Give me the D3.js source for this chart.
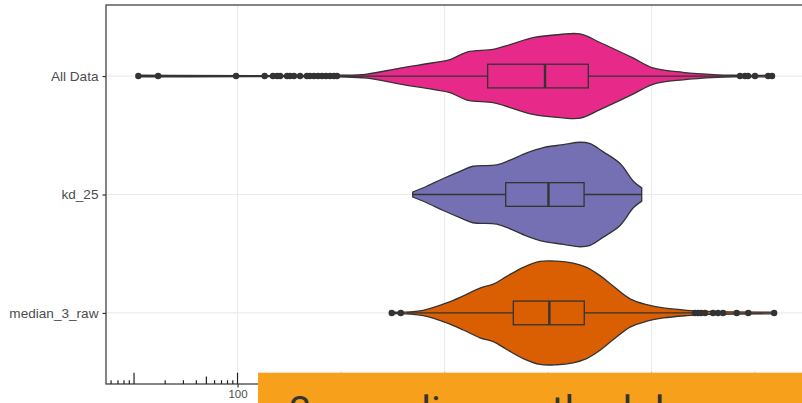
<!DOCTYPE html>
<html>
<head>
<meta charset="utf-8">
<script src="https://cdn.jsdelivr.net/npm/d3@7"></script>
<style>
  body { margin: 0; background: #fff; }
  svg { display: block; }
</style>
</head>
<body>
<div id="chart"></div>
<script>
// Groups and their fills
const groups = ["All Data", "kd_25", "median_3_raw"];
const groupColors = ["#E7298A", "#7570B3", "#D95F02"];

// Violin outlines: values along x and relative density at that value
const allDataValues = [11, 935, 1780, 3720, 7740, 11300, 16500, 29400, 43000, 71600,
                       131000, 204000, 318000, 662000, 1030000, 2010000, 4300000, 6120000, 14600000];
const allDataDensity = [0.015, 0.015, 0.037, 0.15, 0.25, 0.31, 0.45, 0.50, 0.59, 0.72,
                        0.78, 0.79, 0.63, 0.34, 0.155, 0.07, 0.024, 0.015, 0.015];

const kd25Values = [4930, 6730, 9730, 14100, 18800, 31900, 43000, 62300, 90200,
                    141000, 204000, 255000, 342000, 497000, 667000, 804000];
const kd25Density = [0.047, 0.155, 0.30, 0.435, 0.53, 0.555, 0.645, 0.78, 0.88,
                     0.935, 0.98, 0.955, 0.80, 0.58, 0.25, 0.125];

const median3Values = [3090, 4000, 6240, 10500, 15200, 22000, 29600, 39900, 57700, 83700,
                       121000, 175000, 236000, 318000, 428000, 620000, 900000, 1300000,
                       2190000, 3410000, 15300000];
const median3Density = [0.015, 0.015, 0.05, 0.187, 0.32, 0.467, 0.54, 0.686, 0.856, 0.966,
                        0.972, 0.935, 0.856, 0.70, 0.50, 0.265, 0.155, 0.093,
                        0.05, 0.028, 0.015];

// Box stats: [lower whisker, q1, median, q3, upper whisker]
const allDataBox = [935, 26100, 93500, 245000, 6850000];
const kd25Box = [4930, 39000, 101000, 223000, 804000];
const median3Box = [4340, 46200, 103000, 224000, 2520000];

// Outlying points
const allDataOutliers = [11, 17.1, 96.8, 183, 220, 241, 258, 301, 321, 351, 402, 469,
                         501, 548, 600, 655, 716, 783, 855, 914,
                         7160000, 8000000, 8550000, 10000000, 13400000, 14600000];
const kd25Outliers = [];
const median3Outliers = [3090, 3780, 2630000, 2810000, 3010000, 3290000, 3930000,
                         4390000, 4910000, 6650000, 8610000, 15300000];

// x axis breaks
const xBreaks = [100, 10000, 1000000];
const xBreakLabels = ["100", "10000", "1e+06"];

const bannerText = "3 sampling methodology";

const violinData = [
    {values: allDataValues, density: allDataDensity, box: allDataBox, outliers: allDataOutliers},
    {values: kd25Values, density: kd25Density, box: kd25Box, outliers: kd25Outliers},
    {values: median3Values, density: median3Density, box: median3Box, outliers: median3Outliers}
].map((g, i) => ({
    name: groups[i],
    color: groupColors[i],
    outline: g.values.map((v, j) => ({v: v, d: g.density[j]})),
    box: g.box,
    outliers: g.outliers
}));

// Dimensions
const totalW = 802, totalH = 403;
const margin = {top: 5, left: 106};
const width = 702;   // panel runs past the right edge
const height = 379;
const lineCol = "#333333";
const lineW = 1.3;

const svg = d3.select("#chart")
    .append("svg")
    .attr("width", totalW)
    .attr("height", totalH);

const g = svg.append("g")
    .attr("transform", `translate(${margin.left}, ${margin.top})`);

// Scales
const x = d3.scaleLog()
    .domain([5.36, 3.25e7])
    .range([0, width]);

const y = d3.scalePoint()
    .domain(groups)
    .range([0, height])
    .padding(0.6);

const halfWidth = d3.scaleLinear()
    .domain([0, 1])
    .range([0, 0.45 * y.step()]);

const boxHalf = 0.1 * y.step();

// Grid lines
g.append("g")
    .selectAll("line")
    .data(xBreaks)
    .join("line")
    .attr("x1", d => x(d)).attr("x2", d => x(d))
    .attr("y1", 0).attr("y2", height)
    .attr("stroke", "#ebebeb")
    .attr("stroke-width", 1.2);

g.append("g")
    .selectAll("line")
    .data(groups)
    .join("line")
    .attr("x1", 0).attr("x2", width)
    .attr("y1", d => y(d)).attr("y2", d => y(d))
    .attr("stroke", "#ebebeb")
    .attr("stroke-width", 1.2);

// Violins
const area = d3.area()
    .x(d => x(d.v))
    .curve(d3.curveCatmullRom);

violinData.forEach(grp => {
    const cy = y(grp.name);
    const vg = g.append("g").attr("class", "violin");

    vg.append("path")
        .datum(grp.outline)
        .attr("d", area
            .y0(d => cy - halfWidth(d.d))
            .y1(d => cy + halfWidth(d.d)))
        .attr("fill", grp.color)
        .attr("stroke", lineCol)
        .attr("stroke-width", lineW);

    const [lo, q1, med, q3, hi] = grp.box;

    // Whiskers
    vg.append("line")
        .attr("x1", x(lo)).attr("x2", x(q1))
        .attr("y1", cy).attr("y2", cy)
        .attr("stroke", lineCol).attr("stroke-width", lineW);
    vg.append("line")
        .attr("x1", x(q3)).attr("x2", x(hi))
        .attr("y1", cy).attr("y2", cy)
        .attr("stroke", lineCol).attr("stroke-width", lineW);

    // Box
    vg.append("rect")
        .attr("x", x(q1))
        .attr("y", cy - boxHalf)
        .attr("width", x(q3) - x(q1))
        .attr("height", boxHalf * 2)
        .attr("fill", grp.color)
        .attr("stroke", lineCol)
        .attr("stroke-width", lineW);

    // Median
    vg.append("line")
        .attr("x1", x(med)).attr("x2", x(med))
        .attr("y1", cy - boxHalf).attr("y2", cy + boxHalf)
        .attr("stroke", lineCol).attr("stroke-width", 2.4);

    // Outliers
    vg.selectAll("circle")
        .data(grp.outliers)
        .join("circle")
        .attr("cx", d => x(d))
        .attr("cy", cy)
        .attr("r", 3.2)
        .attr("fill", lineCol);
});

// Panel border
g.append("rect")
    .attr("x", 0).attr("y", 0)
    .attr("width", width).attr("height", height)
    .attr("fill", "none")
    .attr("stroke", lineCol)
    .attr("stroke-width", 1.2);

// Y axis
const yAxis = g.append("g")
    .call(d3.axisLeft(y).tickSize(3.5).tickPadding(4));
yAxis.select(".domain").remove();
yAxis.selectAll(".tick line").attr("stroke", lineCol).attr("stroke-width", 1.2);
yAxis.selectAll(".tick text")
    .attr("fill", "#4d4d4d")
    .style("font-family", "Liberation Sans, Arial, sans-serif")
    .style("font-size", "13.6px");

// X axis
const xAxis = g.append("g")
    .attr("transform", `translate(0, ${height})`)
    .call(d3.axisBottom(x)
        .tickValues(xBreaks)
        .tickFormat((d, i) => xBreakLabels[i])
        .tickSize(3.5)
        .tickPadding(2));
xAxis.select(".domain").remove();
xAxis.selectAll(".tick line").attr("stroke", lineCol).attr("stroke-width", 1.2);
xAxis.selectAll(".tick text")
    .attr("fill", "#4d4d4d")
    .style("font-family", "Liberation Sans, Arial, sans-serif")
    .style("font-size", "11.5px");

// Log ticks along the bottom of the panel
const logTicks = x.ticks().filter(d => d >= x.domain()[0] && d <= x.domain()[1]);
g.append("g")
    .selectAll("line")
    .data(logTicks)
    .join("line")
    .attr("x1", d => x(d)).attr("x2", d => x(d))
    .attr("y1", height)
    .attr("y2", d => {
        const lead = Math.round(d / Math.pow(10, Math.floor(Math.log10(d) + 1e-9)));
        const len = lead === 1 ? 11.3 : (lead === 5 ? 7.6 : 3.8);
        return height - len;
    })
    .attr("stroke", "#222222")
    .attr("stroke-width", 1.2);

// Banner overlay
svg.append("rect")
    .attr("x", 258)
    .attr("y", 372.7)
    .attr("width", totalW - 258)
    .attr("height", 40)
    .attr("fill", "#F6A01B");

svg.append("text")
    .attr("x", 289)
    .attr("y", 424.5)
    .attr("fill", "#333333")
    .style("font-family", "Roboto, sans-serif")
    .style("font-size", "40px")
    .text(bannerText);
</script>
</body>
</html>
